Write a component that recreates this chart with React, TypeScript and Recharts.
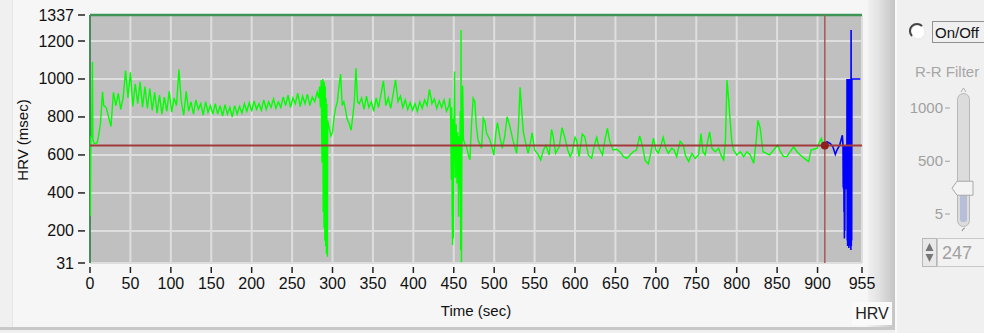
import { LineChart, Line, XAxis, YAxis, CartesianGrid, ReferenceLine, ReferenceDot } from "recharts";

const xTicks = [0, 50, 100, 150, 200, 250, 300, 350, 400, 450, 500, 550, 600, 650, 700, 750, 800, 850, 900, 955];
const yTicks = [31, 200, 400, 600, 800, 1000, 1200, 1337];
const cursorTime = 909;
const cursorValue = 650;

// first seconds, read point by point
const startPoints: [number, number][] = [
  [0, 660], [0.5, 280], [1, 700], [2, 690], [3, 1090], [3.5, 680], [5, 662], [7, 660], [9, 665], [10.5, 696], [13, 767], [15.5, 933],
];

// resting part, one value every 3 s from t=17
const restStart = 17;
const restStep = 3;
const restValues = [
  860, 850, 800, 750, 930, 860, 925, 840, 900, 1045,
  900, 1035, 855, 975, 870, 985, 850, 960, 845, 950,
  835, 930, 820, 915, 815, 905, 830, 935, 825, 900,
  860, 1050, 880, 810, 935, 830, 880, 815, 890, 840,
  870, 810, 880, 825, 860, 815, 870, 815, 860, 805,
  865, 815, 850, 800, 860, 815, 855, 820, 870, 830,
  875, 830, 885, 840, 870, 835, 890, 840, 880, 850,
  895, 845, 880, 850, 905, 860, 915, 850, 900, 870,
  925, 855, 910, 870, 920, 860, 905, 880, 930,
];

const firstDrop: [number, number][] = [
  [283, 900], [284, 960], [285, 850], [286, 995], [287, 560], [288, 1000], [288.5, 300], [289, 990], [289.5, 215],
  [290, 980], [290.5, 150], [291, 960], [291.5, 120], [292, 900], [292.5, 80], [293, 870], [293.7, 64], [294, 780],
  [296, 740], [298, 700], [300, 720], [302, 800], [304, 850], [306, 880], [308, 960], [310, 1026], [312, 860],
  [314, 880], [316, 840], [318, 790], [321, 760], [323, 730], [325, 800], [327, 880], [329, 1056], [331, 880],
];

// second plateau, every 3 s from t=333
const plateauStart = 333;
const plateauStep = 3;
const plateauValues = [
  870, 900, 840, 910, 850, 880, 830, 900, 850, 920,
  990, 860, 900, 845, 920, 995, 880, 910, 850, 890,
  840, 875, 835, 870, 830, 880, 845, 890, 860, 945,
  870, 895, 845, 885, 850, 890, 830, 860,
];

const secondDrop: [number, number][] = [
  [445, 900], [446, 830], [447, 470], [447.5, 850], [448, 320], [448.5, 126], [449, 790], [449.5, 160], [450, 620],
  [451, 1040], [451.5, 640], [452, 480], [453, 760], [454, 450], [455, 720], [456, 275], [456.5, 700], [457, 420],
  [458, 830], [458.5, 100], [459, 1258], [459.5, 35], [460, 600], [461, 965], [462, 680], [464, 655], [466, 640],
  [468, 600], [470, 575],
];

const lateSection: [number, number][] = [
  [472, 767], [474, 898], [476, 880], [478, 749], [480, 679], [484.4, 635], [486.5, 793], [488.6, 775], [490.6, 714],
  [494.8, 679], [499.7, 600], [502, 714], [504, 770], [507, 696], [510, 635], [513, 696], [516, 802], [519.5, 749],
  [523.6, 670], [527.8, 609], [530, 749], [532, 956], [534, 837], [536, 723], [539, 661], [542, 609], [545.5, 679],
  [547, 717], [550, 626], [554.6, 600], [557.5, 573], [561, 626], [564, 652], [568, 600], [571, 735], [573, 696],
  [576, 609], [580.5, 644], [584, 744], [587.6, 688], [591, 626], [594, 591], [596.6, 617], [600, 693], [602, 679],
  [605, 591], [609, 710], [612, 696], [616.4, 600], [620.6, 582], [623.5, 644], [626.8, 693], [630, 635], [634, 600],
  [637, 679], [640, 740], [643, 670], [647, 626], [651.5, 630], [655.6, 617], [660, 591], [664, 582], [668, 600],
  [672, 617], [676, 626], [680, 700], [683.7, 644], [686.6, 573], [690.7, 552], [693.6, 609], [697, 688], [700, 626],
  [703, 609], [706, 644], [709, 693], [712.5, 635], [715.4, 609], [719.6, 635], [722.5, 626], [725.7, 591], [730, 672],
  [734, 652], [736.4, 600], [740.5, 565], [744.6, 608], [748.8, 582], [752.9, 600], [755.8, 713], [758.3, 617],
  [761, 600], [764, 669], [766.5, 722], [769.4, 635], [773.5, 617], [777.6, 635], [780.5, 600], [783.8, 574],
  [786, 669], [788, 995], [790, 895], [792, 774], [794, 669], [796, 626], [800, 600], [804.5, 617], [808.6, 591],
  [812.7, 617], [816.8, 600], [821, 556], [824, 669], [826.3, 782], [829.2, 739], [832.5, 617], [836.6, 608],
  [840.7, 600], [845.7, 626], [850.7, 652], [854, 617], [858, 591], [862, 591], [866.3, 617], [870.4, 643],
  [874.6, 617], [878.7, 600], [883.7, 582], [889, 565], [892, 626], [895, 630], [899.3, 635], [902.6, 669],
  [904.7, 687], [906.8, 652], [909, 655],
];

const bluePoints: [number, number][] = [
  [909, 655], [911.7, 669], [915.8, 660], [919, 643], [922, 603], [924, 626], [927.4, 652], [930.7, 704], [931.5, 652],
  [931.75, 430], [932, 650], [932.25, 420], [932.5, 640], [932.75, 300], [933, 650], [933.25, 160], [933.5, 640],
  [933.75, 200], [934, 650], [934.25, 420], [934.5, 640], [934.75, 430], [935, 650], [935.25, 420], [935.5, 650],
  [935.75, 430], [936, 650], [936.25, 430], [936.5, 1000], [936.75, 150], [937, 1000], [937.25, 120], [937.5, 1000],
  [937.75, 200], [938, 1000], [938.25, 130], [938.5, 1000], [938.75, 110], [939, 1000], [939.25, 120], [939.5, 1000],
  [939.75, 150], [940, 1000], [940.25, 130], [940.5, 1000], [940.75, 120], [941, 1000], [941.25, 100], [941.5, 1258],
  [941.75, 120], [942, 1000], [942.25, 150], [942.5, 1000], [953, 1000],
];

const sliderTicks = [1000, 500, 5];
const filterValue = 247;

const font = "'Liberation Sans', Arial, sans-serif";

const greenData = [
  ...startPoints,
  ...restValues.map((v, i) => [restStart + i * restStep, v] as [number, number]),
  ...firstDrop,
  ...plateauValues.map((v, i) => [plateauStart + i * plateauStep, v] as [number, number]),
  ...secondDrop,
  ...lateSection,
]
  .sort((a, b) => a[0] - b[0])
  .map(([t, v]) => ({ t, v }));

const blueData = bluePoints.map(([t, v]) => ({ t, v }));

function YTick({ x, y, payload }: any) {
  return (
    <g>
      <line x1={x - 12} x2={x - 5} y1={y} y2={y} stroke="#222" strokeWidth={1.5} />
      <text x={x - 16} y={y + 5.5} textAnchor="end" fontSize={16} fontFamily={font} fill="#111">
        {payload.value}
      </text>
    </g>
  );
}

function XTick({ x, y, payload }: any) {
  return (
    <g>
      <line x1={x} x2={x} y1={y + 4} y2={y + 10} stroke="#222" strokeWidth={1.5} />
      <text x={x} y={y + 26} textAnchor="middle" fontSize={16} fontFamily={font} fill="#111">
        {payload.value}
      </text>
    </g>
  );
}

function FilterPanel() {
  const yOf = (v: number) => 214 - ((v - 5) * 106) / 995;
  const thumbY = yOf(filterValue);
  return (
    <svg width={89} height={333} style={{ position: "absolute", left: 895, top: 0 }} viewBox="895 0 89 333">
      <line x1={896} x2={896} y1={0} y2={333} stroke="#fafafa" strokeWidth={2} />
      {/* radio */}
      <circle cx={918} cy={32} r={7} fill="#fff" stroke="#e8e8e8" />
      <path d="M 912 36 A 7 7 0 0 1 922 26" fill="none" stroke="#444" strokeWidth={2} />
      <rect x={932.5} y={21.5} width={52} height={21} fill="none" stroke="#333" strokeDasharray="1 1" />
      <text x={935} y={38} fontSize={15} fontFamily={font} fill="#111">On/Off</text>
      <text x={915} y={77} fontSize={15} fontFamily={font} fill="#a6a6a6">R-R Filter</text>
      {sliderTicks.map((v) => (
        <g key={v}>
          <text x={943} y={yOf(v) + 5} textAnchor="end" fontSize={15} fontFamily={font} fill="#a0a0a0">{v}</text>
          <line x1={945} x2={950} y1={yOf(v)} y2={yOf(v)} stroke="#a0a0a0" />
        </g>
      ))}
      <rect x={957.5} y={93.5} width={12} height={133} rx={6} fill="#dcdcdc" stroke="#b8b8b8" />
      <rect x={960} y={thumbY} width={7} height={222 - thumbY} rx={3} fill="#b6bed8" />
      <path d="M 961 92 L 963.5 88 L 966 92" fill="none" stroke="#b0b0b0" />
      <path
        d={`M 952 ${thumbY} L 957 ${thumbY - 7} L 973 ${thumbY - 7} L 973 ${thumbY + 7} L 957 ${thumbY + 7} Z`}
        fill="#f4f4f4"
        stroke="#a8a8a8"
      />
      <path d="M 962 231 q 1 -3 3 -3" fill="none" stroke="#888" />
      <rect x={922.5} y={238.5} width={14} height={28} fill="#e8e8e8" stroke="#b8b8b8" />
      <path d="M 925.5 251 L 929.5 243 L 933.5 251 Z" fill="#777" />
      <path d="M 925.5 254 L 929.5 262 L 933.5 254 Z" fill="#777" />
      <rect x={937.5} y={238.5} width={50} height={28} fill="#f2f2f2" stroke="#c8c8c8" />
      <text x={942} y={259} fontSize={18} fontFamily={font} fill="#a0a0a0">{filterValue}</text>
    </svg>
  );
}

export default function App() {
  return (
    <div style={{ position: "absolute", left: 0, top: 0, width: 984, height: 333, background: "#f0f0f0", overflow: "hidden", fontFamily: font }}>
      <div style={{ position: "absolute", left: 12, top: 0, width: 856, height: 328, background: "#f6f6f6", borderLeft: "1px solid #e6e6e6" }} />
      <div style={{ position: "absolute", left: 868, top: 0, width: 27, height: 328, background: "linear-gradient(to right, #f0f0f0, #e2e2e2 40%, #c4c4c4)", borderRight: "1px solid #8c8c8c" }} />
      <div style={{ position: "absolute", left: 0, top: 327, width: 895, height: 3, background: "#c8c8c8" }} />
      <div style={{ position: "absolute", left: 0, top: 0 }}>
        <LineChart width={880} height={333} margin={{ top: 15, right: 18, bottom: 30, left: 10 }}>
          <CartesianGrid fill="#c0c0c0" stroke="#dedede" strokeWidth={2} horizontalValues={yTicks} verticalValues={xTicks} />
          <XAxis
            type="number"
            dataKey="t"
            domain={[0, 955]}
            ticks={xTicks}
            interval={0}
            height={40}
            axisLine={false}
            tickLine={false}
            tickSize={0}
            tickMargin={0}
            tick={<XTick />}
            allowDataOverflow
          />
          <YAxis
            type="number"
            domain={[31, 1337]}
            ticks={yTicks}
            interval={0}
            width={80}
            axisLine={false}
            tickLine={false}
            tickSize={0}
            tickMargin={0}
            tick={<YTick />}
            allowDataOverflow
          />
          <ReferenceLine y={1337} stroke="#3f9456" strokeWidth={2.5} />
          <ReferenceLine x={0} stroke="#4a8a5e" strokeWidth={2} />
          <Line data={greenData} dataKey="v" type="linear" stroke="#00ff00" strokeWidth={1.4} dot={false} isAnimationActive={false} />
          <Line data={blueData} dataKey="v" type="linear" stroke="#0000ff" strokeWidth={1.6} dot={false} isAnimationActive={false} />
          <ReferenceLine y={cursorValue} stroke="#a13a3a" strokeWidth={2} />
          <ReferenceLine x={cursorTime} stroke="#a65a5a" strokeWidth={1.5} />
          <ReferenceDot x={cursorTime} y={cursorValue} r={4} fill="#8e1f1f" stroke="none" />
        </LineChart>
      </div>
      <div style={{ position: "absolute", left: 22, top: 140, transform: "translate(-50%, -50%) rotate(-90deg)", fontSize: 15, color: "#111", whiteSpace: "nowrap" }}>
        HRV (msec)
      </div>
      <div style={{ position: "absolute", left: 476, top: 310, transform: "translate(-50%, -50%)", fontSize: 15, color: "#111", whiteSpace: "nowrap" }}>
        Time (sec)
      </div>
      <div style={{ position: "absolute", left: 852, top: 302, width: 40, height: 23, background: "#fafafa", fontSize: 16, color: "#222", lineHeight: "23px", textAlign: "center" }}>
        HRV
      </div>
      <FilterPanel />
    </div>
  );
}
